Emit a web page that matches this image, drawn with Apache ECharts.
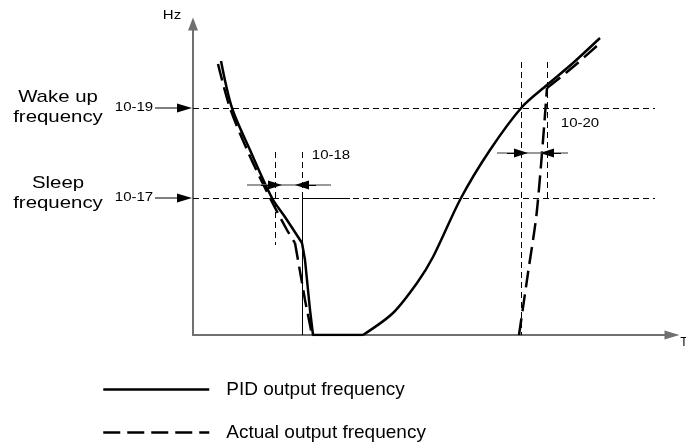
<!DOCTYPE html>
<html>
<head>
<meta charset="utf-8">
<title>Sleep / wake up</title>
<script src="https://cdn.jsdelivr.net/npm/echarts/dist/echarts.min.js"></script>
<style>
	html, body { margin: 0; padding: 0; background: #fff; }
	#main { width: 686px; height: 447px; }
</style>
</head>
<body>
<div id="main"></div>
<script>
	// PID output frequency, split where the curve has corners
	var pidDesc = [[28, 274], [39, 227], [57, 185], [79, 137], [92, 118], [109, 92]];
	var pidDrop = [[109, 92], [112, 75], [117, 25], [120, 0], [170, 0]];
	var pidRise = [[170, 0], [200, 22], [224, 52], [240, 78], [268, 137], [297, 185], [329, 228], [354, 250], [380, 272], [407, 297]];

	// actual output frequency
	var actDesc = [[25, 271], [37, 227], [55, 183], [77, 137], [94, 105], [102, 92]];
	var actDrop = [[102, 92], [112, 35], [119, 0]];
	var actRise = [[326, 0], [335, 62], [344, 125], [354, 247]];
	var actFollow = [[354, 247], [380, 268], [405, 290]];

	// levels and delay markers
	var wakeLevel = 227, sleepLevel = 137, levelEnd = 462;
	var sleepGuideX = [82, 109], wakeGuideX = [328, 354];
	var sleepDelayY = 150, wakeDelayY = 182;

	var black = '#000';
	var grey = '#777';
	var font = 'Liberation Sans, Arial, sans-serif';

	function seg(x1, y1, x2, y2, style, endSym) {
		return [
			{ coord: [x1, y1], symbol: 'none', lineStyle: style },
			{ coord: [x2, y2], symbol: endSym ? 'triangle' : 'none', symbolSize: [9, 14] }
		];
	}

	var dash = { color: black, width: 1, type: [6, 4] };
	var thin = { color: black, width: 1, type: 'solid' };
	var stem = { color: grey, width: 1.5, type: 'solid' };

	var guides = [
		seg(0, wakeLevel, levelEnd, wakeLevel, dash),
		seg(0, sleepLevel, levelEnd, sleepLevel, dash),
		seg(sleepGuideX[1], sleepLevel, 157, sleepLevel, thin),
		seg(sleepGuideX[0], 183, sleepGuideX[0], 90, dash),
		seg(sleepGuideX[1], 183, sleepGuideX[1], sleepLevel, dash),
		seg(sleepGuideX[1], sleepLevel, sleepGuideX[1], 0, thin),
		seg(wakeGuideX[0], 273, wakeGuideX[0], 0, dash),
		seg(wakeGuideX[1], 273, wakeGuideX[1], sleepLevel, dash),
		seg(54, sleepDelayY, 138, sleepDelayY, stem),
		seg(sleepGuideX[0] - 14, sleepDelayY, sleepGuideX[0], sleepDelayY, thin, true),
		seg(sleepGuideX[1] + 14, sleepDelayY, sleepGuideX[1], sleepDelayY, thin, true),
		seg(304, wakeDelayY, 375, wakeDelayY, stem),
		seg(wakeGuideX[0] - 14, wakeDelayY, wakeGuideX[0], wakeDelayY, thin, true),
		seg(wakeGuideX[1] + 14, wakeDelayY, wakeGuideX[1], wakeDelayY, thin, true)
	];

	function curve(name, data, smooth, dashed) {
		return {
			name: name,
			type: 'line',
			data: data,
			smooth: smooth ? 0.3 : false,
			symbol: 'none',
			silent: true,
			z: 4,
			itemStyle: { color: black },
			lineStyle: { color: black, width: 2.5, type: dashed ? [17, 7] : 'solid' }
		};
	}

	function label(text, x, y, size, sx) {
		return {
			type: 'text', x: x, y: y, scaleX: sx || 1.2, silent: true,
			style: { text: text, x: 0, y: 0, fill: black, font: size + 'px ' + font, textAlign: 'center', textVerticalAlign: 'middle' }
		};
	}

	var pidName = 'PID output frequency';
	var actName = 'Actual output frequency';

	var option = {
		animation: false,
		backgroundColor: '#fff',
		color: [black],
		grid: { left: 193, right: 14, top: 24, bottom: 112, containLabel: false },
		xAxis: {
			type: 'value', min: 0, max: 479,
			axisLine: { onZero: false, symbol: ['none', 'triangle'], symbolSize: [9, 15], lineStyle: { color: '#707070', width: 2 } },
			axisTick: { show: false }, axisLabel: { show: false }, splitLine: { show: false }
		},
		yAxis: {
			type: 'value', min: 0, max: 311,
			axisLine: { show: true, onZero: false, symbol: ['none', 'triangle'], symbolSize: [10, 13], lineStyle: { color: '#707070', width: 2 } },
			axisTick: { show: false }, axisLabel: { show: false }, splitLine: { show: false }
		},
		legend: {
			data: [pidName, actName],
			orient: 'vertical',
			left: 102, top: 380, height: 100,
			padding: 0,
			itemWidth: 106, itemHeight: 14, itemGap: 24,
			selectedMode: false,
			itemStyle: { opacity: 0 },
			lineStyle: { width: 2.5 },
			textStyle: { color: black, fontSize: 19, fontFamily: font, padding: [0, 0, 0, 12] }
		},
		graphic: [
			label('Hz', 172, 16, 12, 1.25),
			label('Wake up', 58, 97, 17),
			label('frequency', 58, 117, 17),
			label('Sleep', 58, 183, 17),
			label('frequency', 58, 203, 17),
			label('10-19', 134, 108, 12, 1.25),
			label('10-17', 134, 198, 12, 1.25),
			label('10-18', 331, 156, 12, 1.25),
			label('10-20', 580, 124, 12, 1.25),
			label('T', 684, 343, 12, 1)
		],
		series: [
			curve(pidName, pidDesc, true),
			curve(pidName, pidDrop, false),
			curve(pidName, pidRise, true),
			curve(actName, actDesc, true, true),
			curve(actName, actDrop, false, true),
			curve(actName, actRise, true, true),
			curve(actName, actFollow, true, true),
			{
				name: 'guides',
				type: 'line',
				data: [],
				clip: false,
				silent: true,
				markLine: {
					silent: true,
					animation: false,
					symbol: ['none', 'none'],
					label: { show: false },
					data: guides
				}
			}
		]
	};

	var chart = echarts.init(document.getElementById('main'));
	chart.setOption(option);

	// label arrows left of the y axis, placed through the axis scale
	function levelArrow(level) {
		var p = chart.convertToPixel({ gridIndex: 0 }, [0, level]);
		return [
			{ type: 'line', silent: true, shape: { x1: p[0] - 38, y1: p[1], x2: p[0] - 8, y2: p[1] }, style: { stroke: black, lineWidth: 1 } },
			{ type: 'polygon', silent: true, shape: { points: [[p[0] - 16, p[1] - 4.5], [p[0] - 1, p[1]], [p[0] - 16, p[1] + 4.5]] }, style: { fill: black } }
		];
	}
	chart.setOption({ graphic: option.graphic.concat(levelArrow(wakeLevel), levelArrow(sleepLevel)) });
</script>
</body>
</html>
